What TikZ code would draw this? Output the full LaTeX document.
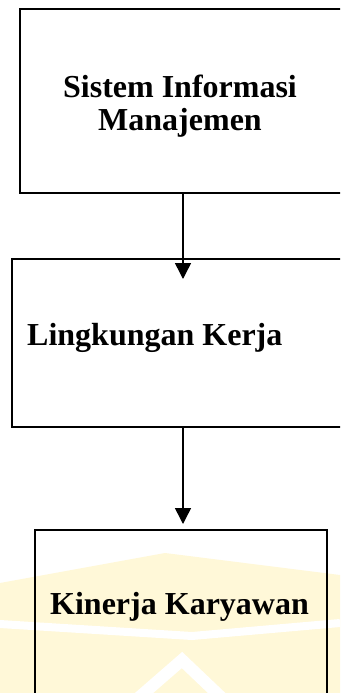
\documentclass[tikz,border=0pt]{standalone}
\usepackage{fontspec}
\setmainfont{Liberation Serif}
\usetikzlibrary{arrows.meta}
\definecolor{wmyellow}{HTML}{FFF8D8}
\begin{document}
\begin{tikzpicture}[x=1pt,y=-1pt,
  box/.style={draw=black,line width=2.3pt,rectangle,inner sep=0pt},
  label/.style={inner sep=0pt,font=\bfseries\fontsize{32}{33}\selectfont},
  conn/.style={line width=1.5pt,-{Triangle[length=16pt,width=16pt]}}]
\useasboundingbox (0,0) rectangle (340,693);
\clip (0,0) rectangle (340,693);
\fill[white] (0,0) rectangle (340,693);

% faint background emblem
\fill[wmyellow] (0,583) -- (165,553) -- (340,575) -- (340,693) -- (0,693) -- cycle;
\draw[white,line width=8pt] (0,624) -- (192,636) -- (340,623);
\draw[white,line width=12pt] (136,700) -- (182,660) -- (224,700);

% boxes
\node[box,minimum width=326pt,minimum height=184pt] (sim) at (183,101) {};
\node[box,minimum width=342pt,minimum height=168pt] (lk) at (183,343) {};
\node[box,minimum width=292pt,minimum height=200pt] (kk) at (181,630) {};

% labels (base anchor of a two-line node sits on its last line)
\node[label,align=center,anchor=base] (simtext) at (180,130) {Sistem Informasi\\Manajemen};
\node[label,anchor=base west] (lktext) at (27,345) {Lingkungan Kerja};
\node[label,anchor=base west] (kktext) at (50,614) {Kinerja Karyawan};

% connectors
\coordinate (t1) at (183,279);
\coordinate (t2) at (183,524);
\draw[conn] (sim.south) -- (t1);
\draw[conn] (lk.south) -- (t2);
\end{tikzpicture}
\end{document}
